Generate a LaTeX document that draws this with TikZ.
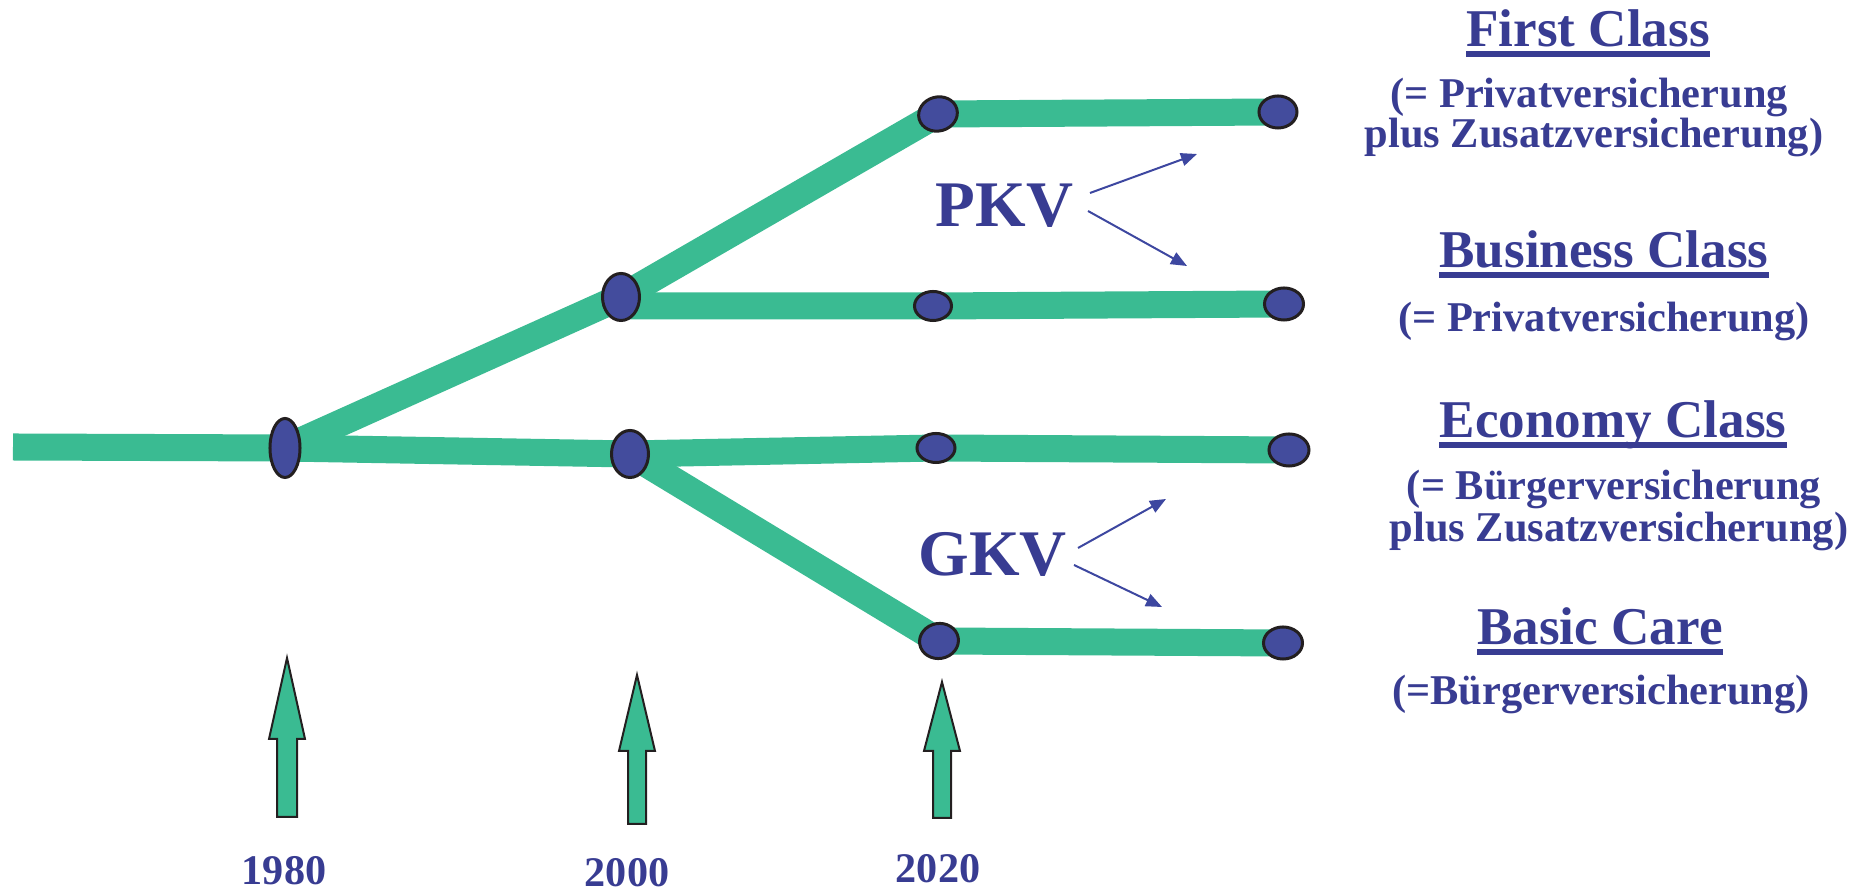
\documentclass[tikz,border=0pt]{standalone}
\usepackage{fontspec}
\setmainfont{Liberation Serif}
\usetikzlibrary{shapes.geometric,arrows.meta,backgrounds}
\definecolor{railgreen}{RGB}{58,187,146}
\definecolor{dotblue}{RGB}{67,76,157}
\definecolor{dotline}{RGB}{35,31,32}
\definecolor{txtblue}{RGB}{56,60,146}
\definecolor{arrblue}{RGB}{61,71,160}
\begin{document}
\begin{tikzpicture}[x=0.01cm,y=-0.01cm,
  rail/.style={draw=railgreen,line width=0.27cm},
  dot/.style={ellipse,draw=dotline,fill=dotblue,line width=0.03cm,inner sep=0pt},
  title/.style={text=txtblue,font=\bfseries\fontsize{15.1pt}{18pt}\selectfont,inner sep=0pt,anchor=base},
  sub/.style={text=txtblue,font=\bfseries\fontsize{12.06pt}{14pt}\selectfont,inner sep=0pt,anchor=base},
  big/.style={text=txtblue,font=\bfseries\fontsize{18.5pt}{22pt}\selectfont,inner sep=0pt,anchor=base west},
  year/.style={text=txtblue,font=\bfseries\fontsize{12pt}{14pt}\selectfont,inner sep=0pt,anchor=base},
  uline/.style={fill=txtblue},
  pointer/.style={draw=arrblue,line width=0.02cm,-{Triangle[length=0.16cm,width=0.13cm]}},
  uparrow/.style={draw=dotline,fill=railgreen,line width=0.02cm,line join=miter}]
\useasboundingbox (0,0) rectangle (1865,892);

% dots
\node[dot,minimum width=0.30cm,minimum height=0.59cm] (n1980) at (285,448) {};
\node[dot,minimum width=0.37cm,minimum height=0.47cm] (n2000u) at (621,297) {};
\node[dot,minimum width=0.37cm,minimum height=0.47cm] (n2000l) at (630,454) {};
\node[dot,minimum width=0.39cm,minimum height=0.34cm,rotate=15] (n2020a) at (938,114) {};
\node[dot,minimum width=0.38cm,minimum height=0.32cm] (endA) at (1278,112) {};
\node[dot,minimum width=0.37cm,minimum height=0.29cm] (n2020b) at (933,306) {};
\node[dot,minimum width=0.39cm,minimum height=0.32cm] (endB) at (1284,304) {};
\node[dot,minimum width=0.38cm,minimum height=0.29cm] (n2020c) at (936,448) {};
\node[dot,minimum width=0.40cm,minimum height=0.32cm] (endC) at (1289,450) {};
\node[dot,minimum width=0.39cm,minimum height=0.35cm,rotate=10] (n2020d) at (939,641) {};
\node[dot,minimum width=0.39cm,minimum height=0.32cm] (endD) at (1283,643) {};
\coordinate (start) at (13,447);

\begin{pgfonlayer}{background}
\draw[rail] (start) -- (n1980.center);
\draw[rail] (n1980.center) -- (n2000u.center);
\draw[rail] (n1980.center) -- (n2000l.center) -- (n2020c.center) -- (endC.center);
\draw[rail] (n2000u.center) -- (n2020a.center) -- (endA.center);
\draw[rail] (n2000u.center |- n2020b.center) -- (n2020b.center) -- (endB.center);
\draw[rail] (n2000l.center) -- (n2020d.center) -- (endD.center);
\end{pgfonlayer}

% PKV / GKV
\node[big] (pkv) at (935,227) {PKV};
\node[big] (gkv) at (918,576) {GKV};
\coordinate (pkvA) at (1090,193);
\coordinate (pkvAt) at (1197,154);
\coordinate (pkvB) at (1088,211);
\coordinate (pkvBt) at (1187,266);
\coordinate (gkvA) at (1078,548);
\coordinate (gkvAt) at (1166,499);
\coordinate (gkvB) at (1074,565);
\coordinate (gkvBt) at (1162,607);
\draw[pointer] (pkvA) -- (pkvAt);
\draw[pointer] (pkvB) -- (pkvBt);
\draw[pointer] (gkvA) -- (gkvAt);
\draw[pointer] (gkvB) -- (gkvBt);

% titles
\node[title] (t1) at (1588,47) {First Class};
\node[title] (t2) at (1604,268) {Business Class};
\node[title] (t3) at (1613,438) {Economy Class};
\node[title] (t4) at (1600,645) {Basic Care};
\foreach \t in {t1,t2,t3,t4}
  \fill[uline] ([shift={(0,4)}]\t.base west) rectangle ([shift={(0,10)}]\t.base east);

\node[sub] (s1a) at (1589,108) {(= Privatversicherung};
\node[sub] (s1b) at (1594,148) {plus Zusatzversicherung)};
\node[sub] (s2) at (1604,332) {(= Privatversicherung)};
\node[sub] (s3a) at (1614,500) {(= Bürgerversicherung};
\node[sub] (s3b) at (1619,542) {plus Zusatzversicherung)};
\node[sub] (s4) at (1601,705) {(=Bürgerversicherung)};

% up arrows
\draw[uparrow] (287,658) -- (305,739) -- (297,739) -- (297,817) -- (277,817) -- (277,739) -- (269,739) -- cycle;
\draw[uparrow] (637,675) -- (655,751) -- (646,751) -- (646,824) -- (628,824) -- (628,751) -- (619,751) -- cycle;
\draw[uparrow] (942,682) -- (960,751) -- (951,751) -- (951,818) -- (933,818) -- (933,751) -- (924,751) -- cycle;

% years
\node[year] (y1980) at (284,885) {1980};
\node[year] (y2000) at (627,887) {2000};
\node[year] (y2020) at (938,883) {2020};
\end{tikzpicture}
\end{document}
